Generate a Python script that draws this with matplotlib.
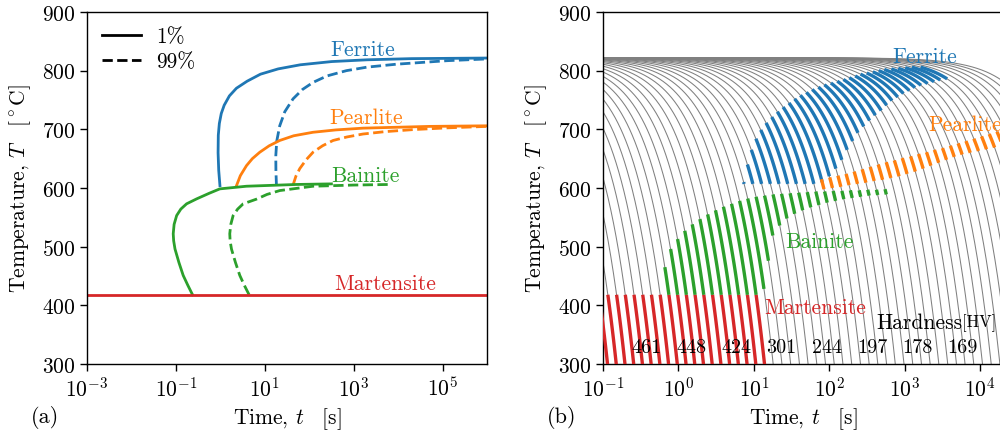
import numpy as np
import matplotlib
matplotlib.use("Agg")
import matplotlib.pyplot as plt
from matplotlib.lines import Line2D
from matplotlib.ticker import NullLocator

plt.rcParams.update({
    "font.family": "serif",
    "font.serif": ["cmr10"],
    "mathtext.fontset": "cm",
    "axes.formatter.use_mathtext": True,
    "font.size": 15.5,
})

C_F, C_P, C_B, C_M = "#1f77b4", "#ff7f0e", "#2ca02c", "#d62728"

# ---------------- (a) TTT diagram: 1 % and 99 % transformation curves ----------------
ferrite_1_t = [0.98, 0.92, 0.89, 0.90, 0.95, 1.05, 1.22, 1.6, 2.3, 4.0, 8.0, 20, 63, 320,
               2000, 2e4, 1e6]
ferrite_1_T = [604, 630, 660, 690, 710, 727, 741, 757, 770, 782, 794, 803, 810, 815.5,
               818.5, 820.5, 821.5]
ferrite_99_t = [18.3, 17.8, 17.7, 18.6, 21.7, 28.2, 43.3, 70.8, 122, 251, 686, 1995, 9120, 1.26e5, 1e6]
ferrite_99_T = [604, 630, 655, 680, 706, 730, 752, 768, 780, 791, 800, 806, 811, 817, 820]

pearlite_1_t = [2.31, 2.82, 3.87, 5.25, 7.73, 12.6, 21.7, 44.7, 122, 398, 1622, 5.13e4, 1e6]
pearlite_1_T = [604, 621, 638, 650, 661, 672, 681, 689, 695, 699, 702, 705, 706]
pearlite_99_t = [43.3, 50.1, 61.2, 85.1, 122, 200, 344, 708, 1622, 5012, 2.14e4, 1.26e5, 1e6]
pearlite_99_T = [605, 620, 633, 648, 661, 672, 681, 687, 692, 696, 699.5, 702.5, 705]

bainite_1_t = [0.237, 0.186, 0.146, 0.117, 0.0955, 0.0891, 0.0871, 0.0912, 0.104, 0.129,
               0.174, 0.292, 0.562, 0.975, 3.87, 51.3, 316]
bainite_1_T = [418, 434, 451, 473, 496, 510, 522, 538, 553, 564, 573, 581.4, 591, 598.5, 603, 606, 607]
bainite_99_t = [4.44, 3.47, 2.74, 2.19, 1.78, 1.66, 1.63, 1.72, 1.94, 2.45, 3.26, 6.50, 11.2,
                21.7, 122, 1000, 6457]
bainite_99_T = [418, 434, 451, 473, 496, 510, 522, 538, 553, 564, 573, 581, 589, 595.6, 603, 605, 606]

martensite_start = 418

# ---------------- (b) CCT diagram: constant-rate cooling curves ----------------
austenitizing_T = 822
cooling_rates = [4547, 3485, 2670, 2046, 1568, 1202, 921, 706, 541, 414.5,
                 317.7, 243.5, 186.6, 143.0, 109.6, 84.0, 64.4, 49.3, 37.8, 29.0,
                 22.2, 17.0, 13.0, 9.99, 7.66, 5.87, 4.50, 3.45, 2.64, 2.02,
                 1.55, 1.19, 0.911, 0.698, 0.535, 0.410, 0.314, 0.241, 0.185, 0.141,
                 0.108, 0.0831, 0.0637, 0.0488, 0.0374, 0.0287, 0.0220, 0.0168, 0.0129, 0.00989,
                 0.00758, 0.00581, 0.00445, 0.00341, 0.00261, 0.00200]

# transformation start / finish temperature on each cooling curve (first curve index given)
martensite_first = 0
martensite_curves = 19
martensite_finish = 250

bainite_first = 8
bainite_start = [465, 496, 513, 527, 538, 547, 555, 562, 568, 573, 578,
                 582, 585, 587, 589, 590, 591, 592, 593, 594, 594, 595, 595, 596, 596, 597, 597, 598]
bainite_finish = [418, 418, 418, 418, 418, 418, 418, 418, 418, 418, 418,
                  428, 476, 519, 536, 548, 556, 562, 567, 571, 575, 578, 581, 583, 585, 587, 588, 589]

ferrite_first = 19
ferrite_start = [610, 640, 665, 684, 699, 711, 721, 730, 738, 745, 752, 758, 763, 768, 772,
                 776, 779, 782, 785, 788, 791, 794, 796, 798, 800, 802, 803, 804, 805, 806, 806]
ferrite_finish = [607, 607, 607, 607, 607, 607, 607, 607, 607, 610, 620, 633, 648, 665, 680,
                  694, 705, 715, 724, 732, 741, 749, 755, 761, 766, 771, 775, 778, 781, 784, 786]

pearlite_first = 28
pearlite_start = [615, 618, 621, 624, 628, 632, 636, 640, 644, 647, 651, 654, 658,
                  661, 665, 668, 672, 676, 680, 684, 688, 692, 696, 700, 704]
pearlite_finish = [598, 600, 602, 605, 607, 609, 612, 614, 617, 620, 624, 628, 633,
                   638, 643, 648, 653, 657, 660, 663, 666, 669, 672, 675, 678]

hardness_t = [0.379, 1.50, 5.90, 23.3, 91.8, 373, 1486, 5860]
hardness_HV = [461, 448, 424, 301, 244, 197, 178, 169]

# ---------------- figure ----------------
fig = plt.figure(figsize=(10, 4.39), dpi=100)
ax1 = fig.add_axes([0.087, 0.1686, 0.400, 0.8018])
ax2 = fig.add_axes([0.603, 0.1686, 0.400, 0.8018])

lw = 2.0
ax1.plot(ferrite_1_t, ferrite_1_T, color=C_F, lw=lw)
ax1.plot(ferrite_99_t, ferrite_99_T, color=C_F, lw=lw, ls="--")
ax1.plot(pearlite_1_t, pearlite_1_T, color=C_P, lw=lw)
ax1.plot(pearlite_99_t, pearlite_99_T, color=C_P, lw=lw, ls="--")
ax1.plot(bainite_1_t, bainite_1_T, color=C_B, lw=lw)
ax1.plot(bainite_99_t, bainite_99_T, color=C_B, lw=lw, ls="--")
ax1.axhline(martensite_start, color=C_M, lw=lw)

ax1.text(10**3.2, 837, "Ferrite", color=C_F, ha="center", va="center")
ax1.text(10**3.27, 721, "Pearlite", color=C_P, ha="center", va="center")
ax1.text(10**3.27, 622, "Bainite", color=C_B, ha="center", va="center")
ax1.text(10**3.70, 437, "Martensite", color=C_M, ha="center", va="center")

handles = [Line2D([], [], color="k", lw=lw), Line2D([], [], color="k", lw=lw, ls="--")]
ax1.legend(handles, ["1%", "99%"], loc="upper left", frameon=False, handlelength=1.8,
           labelspacing=0.25, borderaxespad=0.3, handletextpad=0.7)

ax1.set_xscale("log")
ax1.set_xlim(1e-3, 1e6)
ax1.set_xticks([1e-3, 1e-1, 1e1, 1e3, 1e5])
ax1.xaxis.set_minor_locator(NullLocator())

# cooling curves
t_grid = np.logspace(-2, 5, 1200)
for r in cooling_rates:
    ax2.plot(t_grid, austenitizing_T - r * t_grid, color="0.5", lw=0.75, zorder=1)


def stripe(ax, rate, T_hi, T_lo, color):
    T = np.linspace(T_hi, T_lo, 80)
    t = (austenitizing_T - T) / rate
    ax.plot(t, T, color=color, lw=2.4, solid_capstyle="butt", zorder=3)


for k in range(martensite_curves):
    stripe(ax2, cooling_rates[martensite_first + k], martensite_start, martensite_finish, C_M)
for k, (a, b) in enumerate(zip(bainite_start, bainite_finish)):
    stripe(ax2, cooling_rates[bainite_first + k], a, b, C_B)
for k, (a, b) in enumerate(zip(ferrite_start, ferrite_finish)):
    stripe(ax2, cooling_rates[ferrite_first + k], a, b, C_F)
for k, (a, b) in enumerate(zip(pearlite_start, pearlite_finish)):
    stripe(ax2, cooling_rates[pearlite_first + k], a, b, C_P)

ax2.text(10**3.265, 825, "Ferrite", color=C_F, ha="center", va="center")
ax2.text(10**3.80, 709, "Pearlite", color=C_P, ha="center", va="center")
ax2.text(10**1.874, 510, "Bainite", color=C_B, ha="center", va="center")
ax2.text(10**1.808, 397, "Martensite", color=C_M, ha="center", va="center")
ax2.text(10**3.76, 372, "Hardness", ha="right", va="center")
ax2.text(10**3.76, 371, "[HV]", ha="left", va="center", fontsize=12)
for t, h in zip(hardness_t, hardness_HV):
    ax2.text(t, 329, str(h), ha="center", va="center", fontsize=14.5)

ax2.set_xscale("log")
ax2.set_xlim(1e-1, 2e4)
ax2.set_xticks([1e-1, 1e0, 1e1, 1e2, 1e3, 1e4])
ax2.xaxis.set_minor_locator(NullLocator())

for ax in (ax1, ax2):
    ax.set_ylim(300, 900)
    ax.set_yticks(range(300, 901, 100))
    ax.set_xlabel(r"Time, $t\quad$[s]")
    ax.set_ylabel(r"Temperature, $T\quad$[$^\circ$C]", labelpad=6)
    ax.tick_params(direction="out", length=5, width=1)
    for s in ax.spines.values():
        s.set_linewidth(1.0)

fig.text(0.045, 1 - 418 / 439, "(a)", ha="center", va="center", fontsize=16)
fig.text(0.562, 1 - 418 / 439, "(b)", ha="center", va="center", fontsize=16)

fig.savefig("out.png", dpi=100)
